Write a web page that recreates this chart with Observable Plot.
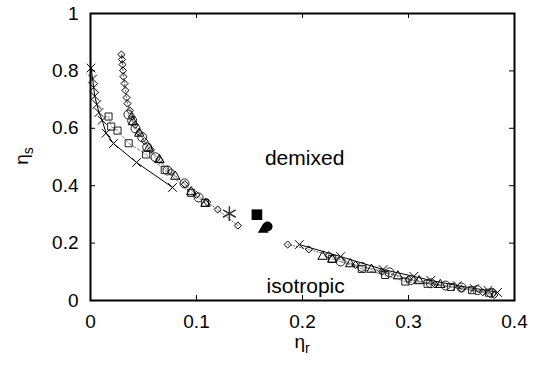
<!DOCTYPE html>
<html><head><meta charset="utf-8">
<script src="https://cdn.jsdelivr.net/npm/d3@7"></script>
<script src="https://cdn.jsdelivr.net/npm/@observablehq/plot@0.6"></script>
<style>body{margin:0;background:#fff}</style>
</head><body><div id="chart"></div>
<script>
// ---- data (eta_r, eta_s) ----
const xTicks = [0, 0.1, 0.2, 0.3, 0.4];
const yTicks = [0, 0.2, 0.4, 0.6, 0.8, 1];

const crossUpper = [[0.0005,0.810],[0.002,0.772],[0.003,0.742],[0.004,0.712],[0.006,0.683],[0.008,0.655],[0.011,0.628],[0.0147,0.583],[0.0217,0.547],[0.0434,0.481],[0.0774,0.394]];
const crossLower = [[0.197,0.195],[0.236,0.153],[0.276,0.108],[0.305,0.084],[0.321,0.070],[0.346,0.052],[0.362,0.042],[0.375,0.035],[0.384,0.028]];

const squareUpper = [[0.017,0.641],[0.0195,0.606],[0.0255,0.592],[0.036,0.548],[0.0525,0.509],[0.070,0.455],[0.095,0.375],[0.108,0.340]];
const squareLower = [[0.228,0.145],[0.256,0.110],[0.278,0.089],[0.297,0.066],[0.318,0.058],[0.340,0.047],[0.360,0.036],[0.376,0.027]];

const diamondUpper = [[0.0292,0.857],[0.0297,0.840],[0.0302,0.822],[0.0307,0.801],[0.0311,0.780],[0.0321,0.756],[0.033,0.732],[0.034,0.707],[0.0349,0.686],[0.037,0.662],[0.039,0.640],[0.042,0.612],[0.046,0.585],[0.051,0.555],[0.057,0.525],[0.065,0.490],[0.076,0.448],[0.089,0.405],[0.100,0.368],[0.110,0.343],[0.120,0.317],[0.139,0.261]];
const diamondLower = [[0.186,0.195],[0.206,0.178],[0.225,0.158],[0.250,0.124],[0.275,0.100],[0.300,0.074],[0.325,0.056],[0.350,0.041],[0.370,0.029],[0.381,0.019]];

const circleUpper = [[0.0358,0.648],[0.0393,0.627],[0.0425,0.599],[0.0488,0.569],[0.0535,0.534],[0.0613,0.499],[0.0726,0.453],[0.0887,0.408],[0.102,0.359]];
const circleLower = [[0.236,0.136],[0.256,0.117],[0.282,0.098],[0.302,0.071],[0.321,0.060],[0.335,0.052],[0.350,0.045],[0.365,0.036],[0.378,0.026]];

const triangleUpper = [[0.040,0.622],[0.046,0.582],[0.055,0.530],[0.065,0.490],[0.080,0.432],[0.095,0.378],[0.1085,0.338]];
const triangleLower = [[0.219,0.153],[0.228,0.143],[0.245,0.127],[0.265,0.108],[0.290,0.085],[0.310,0.068],[0.330,0.055]];

const starPoint = [[0.131,0.303]];
const filledSquare = [[0.157,0.299]];
const filledCircle = [[0.167,0.258]];
const filledTriangle = [[0.163,0.247]];

const regionLabels = [
  {text: "demixed", x: 0.202, y: 0.497},
  {text: "isotropic", x: 0.203, y: 0.049}
];

const W = 539, H = 367;

const plot = Plot.plot({
  width: W, height: H,
  marginLeft: 90, marginRight: 25, marginTop: 13, marginBottom: 67,
  style: {fontFamily: "'Liberation Sans', Arial, Helvetica, sans-serif", fontSize: "19px", color: "#000", background: "#fff"},
  x: {domain: [0, 0.4]},
  y: {domain: [0, 1]},
  marks: [
    Plot.axisX(xTicks, {tickSize: 0, tickPadding: 14, fontSize: 19, label: null, tickFormat: d => String(d)}),
    Plot.axisY(yTicks, {tickSize: 0, tickPadding: 12, fontSize: 19, label: null, tickFormat: d => String(d)}),
    // inward tick marks on all four sides
    Plot.ruleX(xTicks.slice(1, -1), {insetTop: 282, stroke: "#000", strokeWidth: 1}),
    Plot.ruleX(xTicks.slice(1, -1), {insetBottom: 282, stroke: "#000", strokeWidth: 1}),
    Plot.ruleY(yTicks.slice(1, -1), {insetRight: 419, stroke: "#000", strokeWidth: 1}),
    Plot.ruleY(yTicks.slice(1, -1), {insetLeft: 419, stroke: "#000", strokeWidth: 1}),

    // lines
    Plot.line(crossUpper, {x: d => d[0], y: d => d[1], stroke: "#000", strokeWidth: 1}),
    Plot.line(crossLower, {x: d => d[0], y: d => d[1], stroke: "#000", strokeWidth: 1}),
    Plot.line(squareUpper, {x: d => d[0], y: d => d[1], stroke: "#888", strokeWidth: 1, strokeDasharray: "3,2"}),
    Plot.line(squareLower, {x: d => d[0], y: d => d[1], stroke: "#888", strokeWidth: 1, strokeDasharray: "3,2"}),
    Plot.line(diamondUpper, {x: d => d[0], y: d => d[1], stroke: "#555", strokeWidth: 1, strokeDasharray: "1,2"}),
    Plot.line(diamondLower, {x: d => d[0], y: d => d[1], stroke: "#555", strokeWidth: 1, strokeDasharray: "1,2"}),
    Plot.line(circleUpper, {x: d => d[0], y: d => d[1], stroke: "#999", strokeWidth: 1}),
    Plot.line(circleLower, {x: d => d[0], y: d => d[1], stroke: "#999", strokeWidth: 1}),

    // markers
    Plot.dot(crossUpper, {x: d => d[0], y: d => d[1], symbol: "times", r: 4, stroke: "#000", strokeWidth: 1}),
    Plot.dot(crossLower, {x: d => d[0], y: d => d[1], symbol: "times", r: 4, stroke: "#000", strokeWidth: 1}),
    Plot.dot(squareUpper, {x: d => d[0], y: d => d[1], symbol: "square2", r: 4.5, stroke: "#222", fill: "none", strokeWidth: 1}),
    Plot.dot(squareLower, {x: d => d[0], y: d => d[1], symbol: "square2", r: 4.5, stroke: "#222", fill: "none", strokeWidth: 1}),
    Plot.dot(diamondUpper, {x: d => d[0], y: d => d[1], symbol: "diamond2", r: 3.2, stroke: "#000", fill: "none", strokeWidth: 1}),
    Plot.dot(diamondLower, {x: d => d[0], y: d => d[1], symbol: "diamond2", r: 3.2, stroke: "#000", fill: "none", strokeWidth: 1}),
    Plot.dot(circleUpper, {x: d => d[0], y: d => d[1], symbol: "circle", r: 4.5, stroke: "#222", fill: "none", strokeWidth: 1}),
    Plot.dot(circleLower, {x: d => d[0], y: d => d[1], symbol: "circle", r: 4.5, stroke: "#222", fill: "none", strokeWidth: 1}),
    Plot.dot(triangleUpper, {x: d => d[0], y: d => d[1], symbol: "triangle2", r: 4.5, stroke: "#000", fill: "none", strokeWidth: 1}),
    Plot.dot(triangleLower, {x: d => d[0], y: d => d[1], symbol: "triangle2", r: 4.5, stroke: "#000", fill: "none", strokeWidth: 1}),
    Plot.dot(starPoint, {x: d => d[0], y: d => d[1], symbol: "asterisk", r: 7, stroke: "#333", strokeWidth: 1.5}),
    Plot.dot(filledSquare, {x: d => d[0], y: d => d[1], symbol: "square", r: 6, fill: "#000"}),
    Plot.dot(filledCircle, {x: d => d[0], y: d => d[1], symbol: "circle", r: 5, fill: "#000"}),
    Plot.dot(filledTriangle, {x: d => d[0], y: d => d[1], symbol: "triangle", r: 4, fill: "#000"}),

    Plot.text(regionLabels, {x: "x", y: "y", text: "text", fontSize: 21, fill: "#000"}),
    Plot.frame({stroke: "#000", strokeWidth: 2})
  ]
});

// axis titles with subscripts
const svg = d3.select(plot);
const xl = svg.append("text")
  .attr("x", 302).attr("y", 348)
  .attr("text-anchor", "middle")
  .attr("font-size", 19).attr("fill", "#000");
xl.append("tspan").text("η");
xl.append("tspan").attr("dy", 5).attr("font-size", 14).text("r");

const yl = svg.append("text")
  .attr("transform", "translate(28,156) rotate(-90)")
  .attr("text-anchor", "middle")
  .attr("font-size", 19).attr("fill", "#000");
yl.append("tspan").text("η");
yl.append("tspan").attr("dy", 5).attr("font-size", 14).text("s");

document.getElementById("chart").appendChild(plot);
</script>
</body></html>
